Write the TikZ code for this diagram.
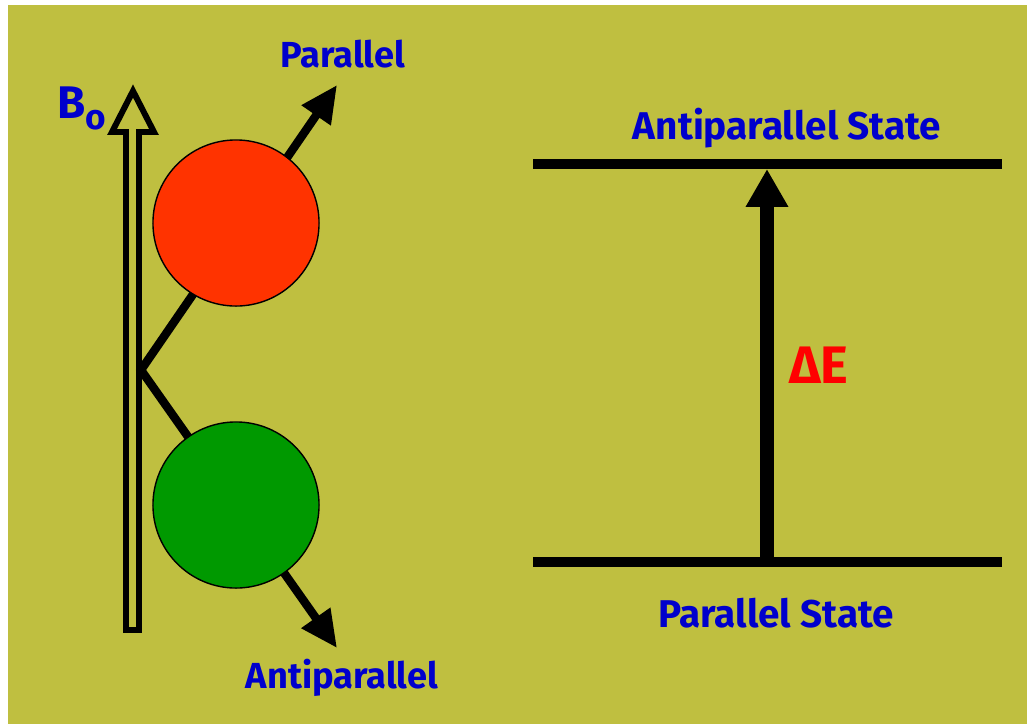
\documentclass[tikz,border=0pt]{standalone}
\usepackage{fontspec}
\setmainfont{Fira Sans}
\usetikzlibrary{arrows.meta,positioning}
\definecolor{nmrolive}{RGB}{191,191,64}
\definecolor{nmrblue}{RGB}{0,0,204}
\definecolor{nmrred}{RGB}{255,51,0}
\definecolor{nmrgreen}{RGB}{0,153,0}
\definecolor{nmrdelta}{RGB}{255,0,0}

\begin{document}
\begin{tikzpicture}[x=0.01cm, y=-0.01cm,
      spinball/.style={circle, draw=black, line width=0.4pt, minimum size=1.66cm, inner sep=0pt},
      spinline/.style={line width=2.4pt, {Triangle[length=10.5pt,width=9.5pt]}-{Triangle[length=10.5pt,width=9.5pt]}},
      lbl/.style={text=nmrblue, font=\bfseries\fontsize{11}{13}\selectfont, anchor=base, inner sep=0pt},
      level/.style={line width=2.85pt}
    ]
  % page and background
  \useasboundingbox (0,0) rectangle (1027,724);
  \fill[white] (0,0) rectangle (1027,724);
  \fill[nmrolive] (8,5) rectangle (1027,724);

  % B0 field arrow (hollow)
  \draw[line width=1.7pt, miter limit=20, fill=nmrolive]
    (126,630) -- (126,132) -- (112,132) -- (133,91) -- (154,132) -- (139,132) -- (139,630) -- cycle;
  \draw[line width=1.7pt] (126,630) -- (139,630);
  \node[text=nmrblue, font=\bfseries\fontsize{13}{15}\selectfont, anchor=base west, inner sep=0pt] (bzero) at (57,118)
    {B\raisebox{-3.4pt}{\fontsize{10}{12}\selectfont o}};

  % spins
  \coordinate (knee) at (141,370);
  \coordinate (uptip) at (337,85);
  \coordinate (downtip) at (337,648);
  \draw[spinline, line join=miter] (uptip) -- (knee) -- (downtip);
  \node[spinball, fill=nmrred] (upball) at (236,223) {};
  \node[spinball, fill=nmrgreen] (downball) at (236,505) {};
  \node[lbl, font=\bfseries\fontsize{10.3}{12}\selectfont] (parlbl) at (343,67) {Parallel};
  \node[lbl, font=\bfseries\fontsize{10.3}{12}\selectfont] (antilbl) at (342,688) {Antiparallel};

  % energy levels
  \coordinate (hileft) at (533,164);
  \coordinate (hiright) at (1002,164);
  \coordinate (loleft) at (533,562);
  \coordinate (loright) at (1002,562);
  \draw[level] (hileft) -- (hiright);
  \draw[level] (loleft) -- (loright);
  \node[lbl] (hilbl) at (787,139) {Antiparallel State};
  \node[lbl] (lolbl) at (776,627) {Parallel State};

  % transition
  \coordinate (gapbot) at (767,562);
  \coordinate (gaptop) at (767,169);
  \draw[line width=4pt, -{Triangle[length=10.8pt,width=11.4pt]}] (gapbot) -- (gaptop);
  \node[text=nmrdelta, font=\bfseries\fontsize{15}{17}\selectfont, anchor=base, inner sep=0pt] (delta) at (819,383) {ΔE};
\end{tikzpicture}
\end{document}
